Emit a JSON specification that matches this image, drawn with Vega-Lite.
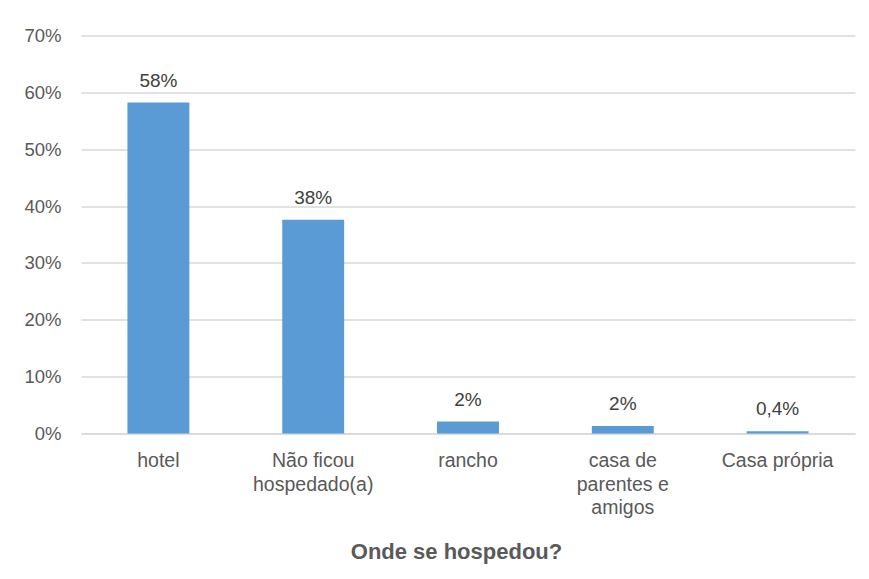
{
  "$schema": "https://vega.github.io/schema/vega-lite/v6.json",
  "width": 774,
  "height": 398,
  "autosize": {"type": "none"},
  "padding": {"left": 81, "top": 35.5, "right": 14, "bottom": 145.5},
  "background": "white",
  "config": {"view": {"stroke": null}, "font": "Liberation Sans"},
  "data": {
    "values": [
      {"local": "hotel", "pct": 58.2, "rotulo": "58%"},
      {"local": "Não ficou|hospedado(a)", "pct": 37.6, "rotulo": "38%"},
      {"local": "rancho", "pct": 2.1, "rotulo": "2%"},
      {"local": "casa de|parentes e|amigos", "pct": 1.3, "rotulo": "2%"},
      {"local": "Casa própria", "pct": 0.4, "rotulo": "0,4%"}
    ]
  },
  "encoding": {
    "x": {
      "field": "local",
      "type": "nominal",
      "sort": null,
      "scale": {"paddingInner": 0.6, "paddingOuter": 0.3},
      "axis": {
        "title": "Onde se hospedou?",
        "labelAngle": 0,
        "labelExpr": "split(datum.label, '|')",
        "labelFontSize": 19.5,
        "labelColor": "#595959",
        "labelPadding": 18,
        "labelLineHeight": 23.5,
        "labelLimit": 0,
        "ticks": false,
        "tickSize": 0,
        "domainColor": "#D9D9D9",
        "domainWidth": 1.5,
        "titleFontSize": 22,
        "titleFontWeight": "bold",
        "titleColor": "#595959",
        "titleX": 375,
        "titleY": 125,
        "titleBaseline": "alphabetic"
      }
    },
    "y": {
      "field": "pct",
      "type": "quantitative",
      "scale": {"domain": [0, 70], "nice": false},
      "axis": {
        "title": null,
        "values": [0, 10, 20, 30, 40, 50, 60, 70],
        "labelExpr": "datum.value + '%'",
        "labelFontSize": 18.5,
        "labelColor": "#595959",
        "labelPadding": 20,
        "ticks": false,
        "tickSize": 0,
        "domain": false,
        "gridColor": "#D9D9D9",
        "gridWidth": 1.5
      }
    }
  },
  "layer": [
    {"mark": {"type": "bar", "color": "#5B9BD5"}},
    {
      "mark": {"type": "text", "baseline": "alphabetic", "dy": -16, "fontSize": 19, "color": "#404040"},
      "encoding": {"text": {"field": "rotulo"}}
    }
  ]
}
